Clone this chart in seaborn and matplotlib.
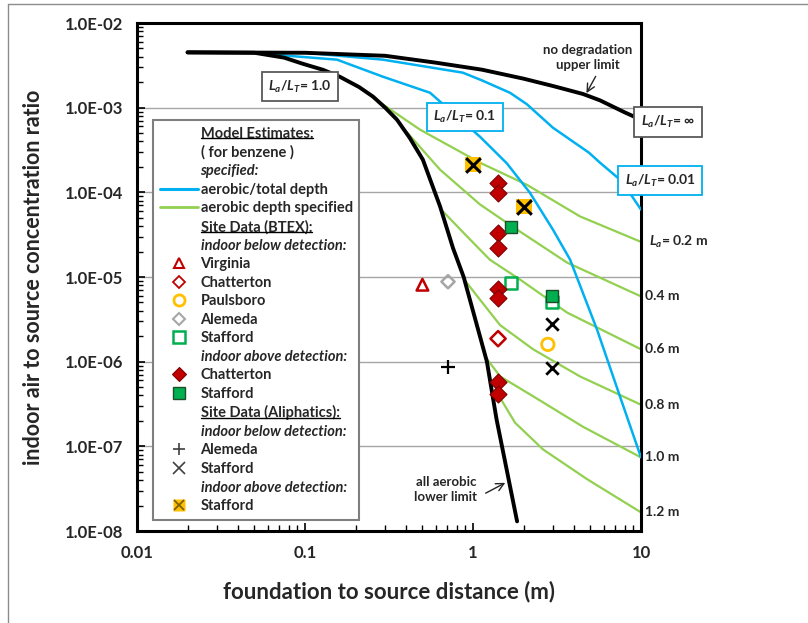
import numpy as np
import pandas as pd
import seaborn as sns
import matplotlib.pyplot as plt
from matplotlib import ticker
from matplotlib.lines import Line2D
from matplotlib.legend_handler import HandlerTuple

sns.set_theme(style='white')
plt.rcParams['font.family'] = ['Lato', 'DejaVu Sans']
plt.rcParams['mathtext.fontset'] = 'custom'
plt.rcParams['mathtext.it'] = 'Lato:italic:bold'
plt.rcParams['mathtext.rm'] = 'Lato:bold'
plt.rcParams['mathtext.bf'] = 'Lato:bold'

# model curves
x_upper = [0.02, 0.1, 0.3, 0.6, 1.13, 2.0, 3.0, 4.52, 5.7, 8.0, 10]
y_upper = [4.5e-3, 4.45e-3, 4.1e-3, 3.4e-3, 2.81e-3, 2.2e-3, 1.8e-3, 1.45e-3, 1.22e-3, 8.8e-4, 7.2e-4]

x_lower = [0.02, 0.05, 0.075, 0.097, 0.128, 0.161, 0.21, 0.254, 0.30, 0.353, 0.42, 0.503, 0.637, 0.76, 0.88, 1.21, 1.38, 1.83]
y_lower = [4.5e-3, 4.45e-3, 3.9e-3, 3.3e-3, 2.8e-3, 2.32e-3, 1.75e-3, 1.35e-3, 1.0e-3, 7.2e-4, 4.4e-4, 2.43e-4, 6.8e-5, 2.2e-5, 1.0e-5, 1.0e-6, 2.1e-7, 1.3e-8]

x_blue01 = [0.02, 0.047, 0.155, 0.291, 0.555, 1.10, 1.59, 2.18, 2.99, 3.78, 5.47, 7.5, 10]
y_blue01 = [4.5e-3, 4.45e-3, 3.69e-3, 2.32e-3, 1.5e-3, 4.54e-4, 2.2e-4, 9.9e-5, 3.63e-5, 1.61e-5, 2.4e-6, 3.87e-7, 7.4e-8]

x_blue001 = [0.02, 0.1, 0.291, 0.87, 1.13, 1.66, 2.09, 2.99, 4.9, 5.7, 7.7, 10]
y_blue001 = [4.5e-3, 4.45e-3, 3.69e-3, 2.59e-3, 2.1e-3, 1.5e-3, 1.1e-3, 5.8e-4, 2.94e-4, 2.24e-4, 1.35e-4, 6.25e-5]

green_labels = ['0.2 m', '0.4 m', '0.6 m', '0.8 m', '1.0 m', '1.2 m']
green_x = [
    [0.254, 0.484, 1.10, 2.09, 4.33, 10],
    [0.405, 0.637, 1.10, 1.73, 3.63, 10],
    [0.66, 0.895, 1.26, 1.91, 3.63, 10],
    [0.90, 1.10, 1.45, 2.28, 4.33, 10],
    [1.20, 1.45, 2.28, 4.52, 10],
    [1.41, 1.78, 2.61, 4.77, 10],
]
green_y = [
    [1.31e-3, 5.5e-4, 2.24e-4, 1.23e-4, 5.2e-5, 2.6e-5],
    [5.1e-4, 1.85e-4, 7.2e-5, 3.9e-5, 1.48e-5, 5.9e-6],
    [6.0e-5, 3.2e-5, 1.6e-5, 9.3e-6, 3.8e-6, 1.4e-6],
    [9.0e-6, 5.4e-6, 2.7e-6, 1.4e-6, 6.7e-7, 3.1e-7],
    [1.1e-6, 6.7e-7, 3.9e-7, 1.7e-7, 7.4e-8],
    [4.1e-7, 1.9e-7, 9.2e-8, 4.1e-8, 1.66e-8],
]

# site data
virginia_x, virginia_y = [0.50], [8.1e-6]
chat_below_x, chat_below_y = [1.41], [1.87e-6]
paul_x, paul_y = [2.79], [1.6e-6]
alem_btex_x, alem_btex_y = [0.71], [8.8e-6]
staf_below_x, staf_below_y = [1.68, 2.95], [8.5e-6, 5.0e-6]
chat_above_x = [1.41, 1.41, 1.41, 1.41, 1.41, 1.41, 1.41, 1.41]
chat_above_y = [1.29e-4, 9.7e-5, 3.34e-5, 2.22e-5, 7.2e-6, 5.7e-6, 5.8e-7, 4.1e-7]
staf_above_x, staf_above_y = [1.68, 2.95], [3.94e-5, 5.9e-6]
alem_ali_x, alem_ali_y = [0.71], [8.7e-7]
staf_ali_x, staf_ali_y = [2.95, 2.95], [2.8e-6, 8.5e-7]
staf_ali_above_x, staf_ali_above_y = [1.0, 2.01], [2.13e-4, 6.8e-5]

BLUE = '#00B0F0'
GREEN = '#92D050'
RED = '#C00000'
GOLD = '#FFC000'

fig = plt.figure(figsize=(8.08, 6.23), dpi=100)
ax = fig.add_axes([137 / 808, 1 - 531 / 623, 504 / 808, 508 / 623])
ax.set_xscale('log')
ax.set_yscale('log')
ax.set_xlim(0.01, 10)
ax.set_ylim(1e-8, 1e-2)

for gx, gy in zip(green_x, green_y):
    sns.lineplot(x=gx, y=gy, ax=ax, color=GREEN, lw=1.6, sort=False, estimator=None, zorder=2)
sns.lineplot(x=x_blue01, y=y_blue01, ax=ax, color=BLUE, lw=1.8, sort=False, estimator=None, zorder=3)
sns.lineplot(x=x_blue001, y=y_blue001, ax=ax, color=BLUE, lw=1.8, sort=False, estimator=None, zorder=3)
sns.lineplot(x=x_upper, y=y_upper, ax=ax, color='black', lw=2.8, sort=False, estimator=None, zorder=4)
sns.lineplot(x=x_lower, y=y_lower, ax=ax, color='black', lw=2.8, sort=False, estimator=None, zorder=4)

# markers
sns.scatterplot(x=virginia_x, y=virginia_y, ax=ax, marker='^', s=70, facecolor='none', edgecolor=RED, linewidth=1.8, zorder=6)
sns.scatterplot(x=chat_below_x, y=chat_below_y, ax=ax, marker='D', s=60, facecolor='none', edgecolor=RED, linewidth=1.8, zorder=6)
sns.scatterplot(x=paul_x, y=paul_y, ax=ax, marker='o', s=80, facecolor='none', edgecolor=GOLD, linewidth=2, zorder=6)
sns.scatterplot(x=alem_btex_x, y=alem_btex_y, ax=ax, marker='D', s=45, facecolor='none', edgecolor='#A6A6A6', linewidth=1.8, zorder=6)
sns.scatterplot(x=staf_below_x, y=staf_below_y, ax=ax, marker='s', s=80, facecolor='white', edgecolor='#00B050', linewidth=1.8, zorder=6)
sns.scatterplot(x=chat_above_x, y=chat_above_y, ax=ax, marker='D', s=75, facecolor=RED, edgecolor='#7F0000', linewidth=0.8, zorder=7)
sns.scatterplot(x=staf_above_x, y=staf_above_y, ax=ax, marker='s', s=85, facecolor='#00B050', edgecolor='#1E4D2B', linewidth=1, zorder=7)
sns.scatterplot(x=alem_ali_x, y=alem_ali_y, ax=ax, marker='+', s=90, color='black', linewidth=1.6, zorder=6)
sns.scatterplot(x=staf_ali_x, y=staf_ali_y, ax=ax, marker='x', s=80, color='black', linewidth=2, zorder=6)
sns.scatterplot(x=staf_ali_above_x, y=staf_ali_above_y, ax=ax, marker='s', s=130, facecolor=GOLD, edgecolor='none', linewidth=0, zorder=7)
sns.scatterplot(x=staf_ali_above_x, y=staf_ali_above_y, ax=ax, marker='x', s=110, color='black', linewidth=2.2, zorder=8)

# axes styling
ax.grid(False)
ax.yaxis.grid(True, which='major', color='#A6A6A6', lw=1)
ax.set_axisbelow(True)
for sp in ax.spines.values():
    sp.set_color('black')
    sp.set_linewidth(2.2)
ax.yaxis.set_major_formatter(ticker.FuncFormatter(lambda v, p: f'{v:.1E}'))
ax.xaxis.set_major_formatter(ticker.FuncFormatter(lambda v, p: f'{v:g}'))
ax.yaxis.set_minor_locator(ticker.LogLocator(base=10, subs=np.arange(2, 10), numticks=20))
ax.xaxis.set_minor_locator(ticker.LogLocator(base=10, subs=np.arange(2, 10), numticks=20))
ax.yaxis.set_minor_formatter(ticker.NullFormatter())
ax.xaxis.set_minor_formatter(ticker.NullFormatter())
ax.tick_params(axis='both', which='both', direction='in', color='black', top=False, right=False,
               bottom=True, left=True)
ax.tick_params(axis='both', which='major', length=6, width=1.2, labelsize=12, pad=10)
ax.tick_params(axis='both', which='minor', length=4, width=1)
for lab in ax.get_xticklabels() + ax.get_yticklabels():
    lab.set_fontweight('bold')

ax.set_xlabel('foundation to source distance (m)', fontsize=16, fontweight='bold')
ax.set_ylabel('indoor air to source concentration ratio', fontsize=15.5, fontweight='bold')
ax.xaxis.set_label_coords(0.5, -0.098)
ax.yaxis.set_label_coords(-0.185, 0.5)

# boxed curve labels
ax.text(0.093, 1.77e-3, r'$L_a$/$L_T$= 1.0', ha='center', va='center', fontsize=10, fontweight='bold',
        bbox=dict(boxstyle='square,pad=0.45', fc='white', ec='#595959', lw=1.3), zorder=9)
ax.text(0.895, 7.8e-4, r'$L_a$/$L_T$= 0.1', ha='center', va='center', fontsize=10, fontweight='bold',
        bbox=dict(boxstyle='square,pad=0.45', fc='white', ec=BLUE, lw=1.3), zorder=9)
ax.text(14.5, 6.84e-4, r'$L_a$/$L_T$= ∞', ha='center', va='center', fontsize=10, fontweight='bold',
        bbox=dict(boxstyle='square,pad=0.5', fc='white', ec='#595959', lw=1.3), zorder=9, clip_on=False)
ax.text(13.0, 1.37e-4, r'$L_a$/$L_T$= 0.01', ha='center', va='center', fontsize=10, fontweight='bold',
        bbox=dict(boxstyle='square,pad=0.45', fc='white', ec=BLUE, lw=1.3), zorder=9, clip_on=False)

# aerobic depth labels at the right edge
for i, (lab, gy) in enumerate(zip(green_labels, green_y)):
    txt = r'$L_a$= ' + lab if i == 0 else lab
    ax.annotate(txt, xy=(10, gy[-1]), xytext=(6 if i == 0 else 3, 0), textcoords='offset points',
                ha='left', va='center', fontsize=10, fontweight='bold', annotation_clip=False)

ax.text(4.84, 3.9e-3, 'no degradation\nupper limit', ha='center', va='center', fontsize=9.5,
        fontweight='bold', color='#262626', linespacing=1.25)
ax.annotate('', xy=(4.65, 1.39e-3), xytext=(5.47, 2.5e-3),
            arrowprops=dict(arrowstyle='->', color='#262626', lw=1, mutation_scale=14))
ax.text(0.69, 3.1e-8, 'all aerobic\nlower limit', ha='center', va='center', fontsize=9.5,
        fontweight='bold', color='#262626', linespacing=1.25)
ax.annotate('', xy=(1.61, 3.84e-8), xytext=(1.15, 2.7e-8),
            arrowprops=dict(arrowstyle='->', color='#262626', lw=1, mutation_scale=14))

# legend
blank = Line2D([], [], linestyle='none')
handles = [
    blank, blank, blank,
    Line2D([], [], color=BLUE, lw=2.2),
    Line2D([], [], color=GREEN, lw=2),
    blank, blank,
    Line2D([], [], ls='none', marker='^', ms=7.5, mfc='none', mec=RED, mew=1.5),
    Line2D([], [], ls='none', marker='D', ms=6, mfc='none', mec=RED, mew=1.3),
    Line2D([], [], ls='none', marker='o', ms=8, mfc='none', mec=GOLD, mew=2),
    Line2D([], [], ls='none', marker='D', ms=6, mfc='none', mec='#A6A6A6', mew=1.5),
    Line2D([], [], ls='none', marker='s', ms=8, mfc='white', mec='#00B050', mew=1.8),
    blank,
    Line2D([], [], ls='none', marker='D', ms=7, mfc=RED, mec='#7F0000', mew=0.8),
    Line2D([], [], ls='none', marker='s', ms=8, mfc='#00B050', mec='#1E4D2B', mew=1),
    blank, blank,
    Line2D([], [], ls='none', marker='+', ms=8, color='#404040', mew=1.2),
    Line2D([], [], ls='none', marker='x', ms=8, color='#404040', mew=1.2),
    blank,
    (Line2D([], [], ls='none', marker='s', ms=8, mfc=GOLD, mec='none'),
     Line2D([], [], ls='none', marker='x', ms=7, color='#7F6000', mew=1.3)),
]
labels = [
    'Model Estimates:', '( for benzene )', 'specified:',
    'aerobic/total depth', 'aerobic depth specified',
    'Site Data (BTEX):', 'indoor below detection:',
    'Virginia', 'Chatterton', 'Paulsboro', 'Alemeda', 'Stafford',
    'indoor above detection:', 'Chatterton', 'Stafford',
    'Site Data (Aliphatics):', 'indoor below detection:', 'Alemeda', 'Stafford',
    'indoor above detection:', 'Stafford',
]
italic_rows = [2, 6, 12, 16, 19]
underline_rows = [0, 5, 15]

leg = ax.legend(handles, labels, loc='upper left', bbox_to_anchor=(0.032, 0.809), borderaxespad=0,
                frameon=True, fancybox=False, edgecolor='#7F7F7F', framealpha=1, fontsize=10.5,
                handlelength=2.6, handletextpad=0.2, labelspacing=0.31, borderpad=0.45,
                handler_map={tuple: HandlerTuple(ndivide=1)})
leg.get_frame().set_linewidth(1.5)
leg.set_zorder(10)
for i, t in enumerate(leg.get_texts()):
    t.set_fontweight('bold')
    if i in italic_rows:
        t.set_fontstyle('italic')

# figure frame (top and left edge of the screenshot)
fig.add_artist(Line2D([8 / 808, 8 / 808], [0, 1 - 4 / 623], transform=fig.transFigure, color='#8C8C8C', lw=1))
fig.add_artist(Line2D([8 / 808, 1], [1 - 4 / 623, 1 - 4 / 623], transform=fig.transFigure, color='#8C8C8C', lw=1))

# underline the legend headings
fig.canvas.draw()
renderer = fig.canvas.get_renderer()
inv = fig.transFigure.inverted()
for i in underline_rows:
    bb = leg.get_texts()[i].get_window_extent(renderer)
    (x0, y0), (x1, _) = inv.transform([(bb.x0, bb.y0 + 0.15 * bb.height), (bb.x1, bb.y0)])
    fig.add_artist(Line2D([x0, x1], [y0, y0], transform=fig.transFigure, color='black', lw=1, zorder=20))

fig.savefig('out.png', dpi=100)
